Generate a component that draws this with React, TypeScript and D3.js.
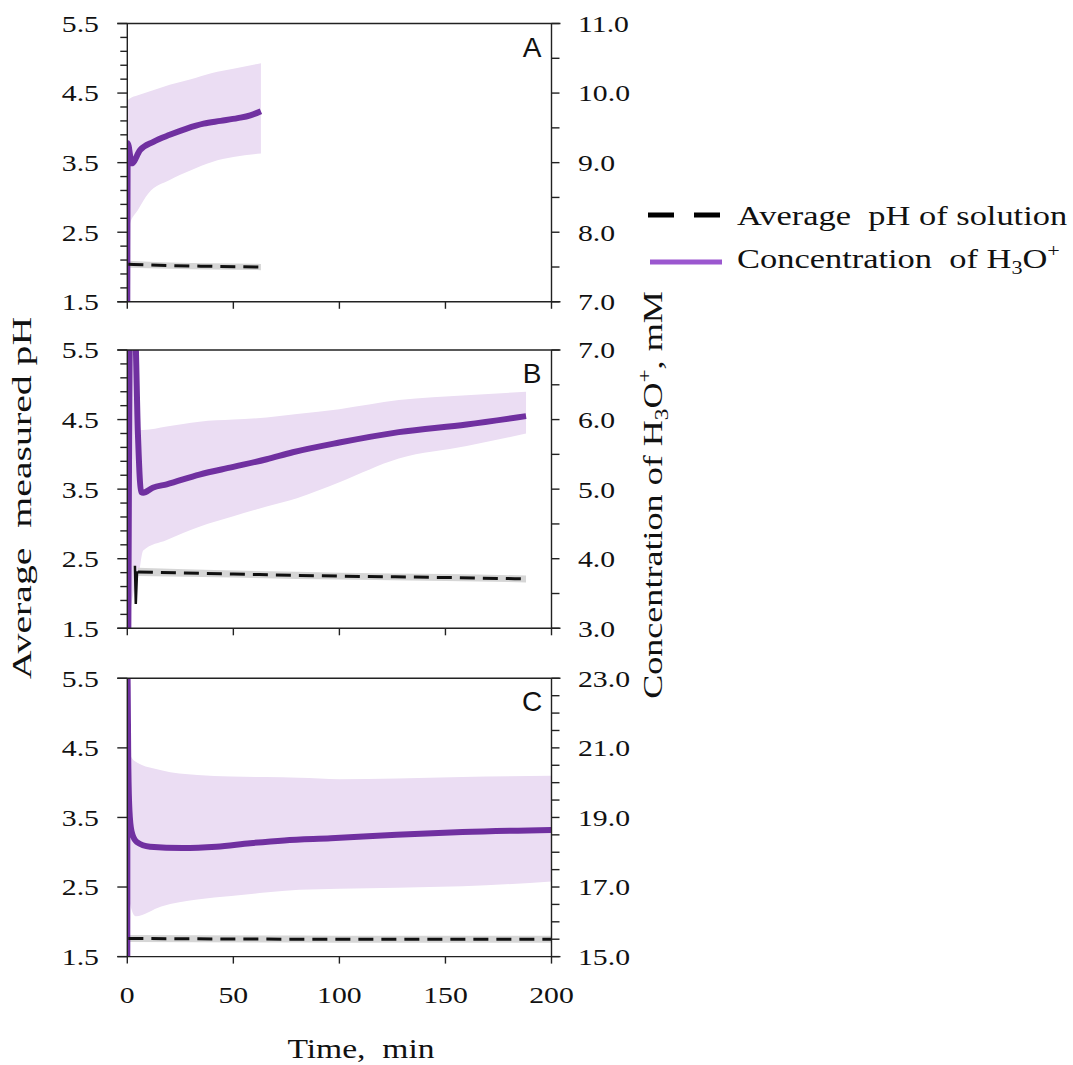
import React from 'react';
import * as d3 from 'd3';

// ---------- data ----------
const timeTicks = [0, 50, 100, 150, 200];

// Panel A
const aConcTime = [0, 0.2, 2.1, 6, 12.3, 20, 28, 36, 44, 52, 58, 63];
const aConc = [7.0, 9.28, 8.99, 9.18, 9.3, 9.4, 9.49, 9.56, 9.6, 9.64, 9.68, 9.74];
const aBandTime = [0.2, 1, 5, 10, 20, 30, 40, 50, 63];
const aBandHigh = [9.9, 9.92, 9.97, 10.02, 10.12, 10.2, 10.29, 10.35, 10.43];
const aBandLow = [7.9, 8.1, 8.32, 8.56, 8.75, 8.89, 9.01, 9.08, 9.13];
const aPhTime = [0.5, 20, 40, 63];
const aPh = [2.04, 2.02, 2.01, 2.0];
const aPhSd = [0.05, 0.045, 0.045, 0.045];

// Panel B
const bConcTime = [0.5, 1.3, 3.6, 5, 6.5, 7.5, 12, 18.6, 34, 50, 65.7, 78, 100, 128, 160, 188];
const bConc = [3.0, 7.3, 7.3, 5.8, 4.96, 4.95, 5.02, 5.07, 5.21, 5.32, 5.43, 5.53, 5.67, 5.82, 5.93, 6.05];
const bBandTime = [0.5, 1.3, 3.6, 5, 7.5, 18.6, 34, 50, 65.7, 80, 100, 128, 160, 188];
const bBandHigh = [3.2, 7.3, 7.3, 5.85, 5.85, 5.9, 5.97, 6.0, 6.03, 6.08, 6.15, 6.28, 6.35, 6.4];
const bBandLow = [3.0, 3.2, 3.6, 3.7, 4.12, 4.27, 4.46, 4.61, 4.75, 4.87, 5.1, 5.44, 5.62, 5.8];
const bPhTime = [5, 50, 100, 150, 188];
const bPh = [2.31, 2.28, 2.25, 2.23, 2.21];
const bPhSd = [0.06, 0.05, 0.05, 0.05, 0.05];
const bPhEarlyTime = [3.6, 4.0, 4.6];
const bPhEarly = [2.4, 1.85, 2.32];

// Panel C
const cConcTime = [0, 0.05, 0.5, 1, 2, 4.4, 10.7, 26, 42, 58, 74, 96, 127, 158, 200];
const cConc = [15.0, 23.2, 20.4, 19.2, 18.6, 18.3, 18.16, 18.12, 18.16, 18.26, 18.34, 18.4, 18.5, 18.58, 18.64];
const cBandTime = [0.3, 1, 4, 16, 33, 49, 65, 81, 100, 127, 158, 200];
const cBandHigh = [21.0, 20.86, 20.6, 20.36, 20.22, 20.18, 20.16, 20.14, 20.1, 20.12, 20.16, 20.2];
const cBandLow = [17.5, 16.6, 16.16, 16.44, 16.64, 16.74, 16.84, 16.92, 16.95, 16.98, 17.02, 17.16];
const cPhTime = [0.5, 100, 200];
const cPh = [1.76, 1.75, 1.75];
const cPhSd = [0.05, 0.05, 0.05];

// axes
const phDomain = [1.5, 5.5];
const phMajorTicks = [1.5, 2.5, 3.5, 4.5, 5.5];
const aRight = { domain: [7, 11], step: 0.5, labelStep: 1 };
const bRight = { domain: [3, 7], step: 0.5, labelStep: 1 };
const cRight = { domain: [15, 23], step: 0.5, labelStep: 2 };

const panelLetters = ['A', 'B', 'C'];
const legendLabels = ['Average  pH of solution', 'Concentration  of H'];

// ---------- styles ----------
const PURPLE = '#7030A0';
const BAND = '#EBDDF3';
const GRAY = '#D6D6D6';
const LEGEND_PURPLE = '#9B57CF';
const SERIF = '"Liberation Serif", "Times New Roman", serif';
const SANS = '"Liberation Sans", Arial, sans-serif';
const TICK_FS = 24;
const TICK_SX = 1.24;

const X0 = 127.3;
const X1 = 551.5;
const panelTops = [23.5, 350, 678.3];
const PH = 278.3;

const x = d3.scaleLinear().domain([0, 200]).range([X0, X1]);

type Panel = {
  letter: string;
  right: { domain: number[]; step: number; labelStep: number };
  minorLeft: boolean;
  concT: number[]; conc: number[];
  bandT: number[]; bandHi: number[]; bandLo: number[];
  phT: number[]; ph: number[]; phSd: number[];
  phEarlyT?: number[]; phEarly?: number[];
};

const panels: Panel[] = [
  { letter: panelLetters[0], right: aRight, minorLeft: true, concT: aConcTime, conc: aConc, bandT: aBandTime, bandHi: aBandHigh, bandLo: aBandLow, phT: aPhTime, ph: aPh, phSd: aPhSd },
  { letter: panelLetters[1], right: bRight, minorLeft: true, concT: bConcTime, conc: bConc, bandT: bBandTime, bandHi: bBandHigh, bandLo: bBandLow, phT: bPhTime, ph: bPh, phSd: bPhSd, phEarlyT: bPhEarlyTime, phEarly: bPhEarly },
  { letter: panelLetters[2], right: cRight, minorLeft: false, concT: cConcTime, conc: cConc, bandT: cBandTime, bandHi: cBandHigh, bandLo: cBandLow, phT: cPhTime, ph: cPh, phSd: cPhSd },
];

function range(a: number, b: number, s: number) {
  const out: number[] = [];
  const n = Math.round((b - a) / s);
  for (let i = 0; i <= n; i++) out.push(+(a + i * s).toFixed(4));
  return out;
}

function SText({ x, y, sx, anchor, fs, children, rot, dy }: any) {
  const tr = `translate(${x},${y})${rot ? ` rotate(${rot})` : ''} scale(${sx},1)`;
  return (
    <text transform={tr} dy={dy} textAnchor={anchor || 'start'} fontFamily={SERIF} fontSize={fs} fill="#111" style={{ whiteSpace: 'pre' }}>
      {children}
    </text>
  );
}

function PanelView({ p, idx }: { p: Panel; idx: number }) {
  const top = panelTops[idx];
  const bottom = top + PH;
  const yL = d3.scaleLinear().domain(phDomain).range([bottom, top]);
  const yR = d3.scaleLinear().domain(p.right.domain).range([bottom, top]);
  const clipId = `clip${idx}`;

  const band = d3.area<number>()
    .x((_, i) => x(p.bandT[i]))
    .y0((_, i) => yR(p.bandLo[i]))
    .y1((_, i) => yR(p.bandHi[i]))
    .curve(d3.curveMonotoneX);
  const concLine = d3.line<number>()
    .x((_, i) => x(p.concT[i]))
    .y((v) => yR(v))
    .curve(d3.curveMonotoneX);
  const phBand = d3.area<number>()
    .x((_, i) => x(p.phT[i]))
    .y0((v, i) => yL(v - p.phSd[i]))
    .y1((v, i) => yL(v + p.phSd[i]))
    .curve(d3.curveMonotoneX);
  const phLine = d3.line<number>()
    .x((_, i) => x(p.phT[i]))
    .y((v) => yL(v))
    .curve(d3.curveMonotoneX);
  const earlyLine = d3.line<number>()
    .x((_, i) => x((p.phEarlyT as number[])[i]))
    .y((v) => yL(v));

  const leftTicks = p.minorLeft ? range(1.5, 5.5, 0.2) : phMajorTicks;
  const rightTicks = range(p.right.domain[0], p.right.domain[1], p.right.step);
  const isMajor = (v: number) => phMajorTicks.some((m) => Math.abs(m - v) < 1e-6);
  const isRightLabel = (v: number) => {
    const k = (v - p.right.domain[0]) / p.right.labelStep;
    return Math.abs(k - Math.round(k)) < 1e-6;
  };

  return (
    <g>
      <defs>
        <clipPath id={clipId}>
          <rect x={X0} y={top} width={X1 - X0} height={PH} />
        </clipPath>
      </defs>
      <g clipPath={`url(#${clipId})`}>
        <path d={band(p.bandT) || ''} fill={BAND} />
        <path d={phBand(p.ph) || ''} fill={GRAY} />
        <path d={concLine(p.conc) || ''} fill="none" stroke={PURPLE} strokeWidth={6} strokeLinejoin="round" />
        {p.phEarly && (
          <path d={earlyLine(p.phEarly) || ''} fill="none" stroke="#111" strokeWidth={2.5} />
        )}
        <path d={phLine(p.ph) || ''} fill="none" stroke="#111" strokeWidth={3} strokeDasharray="15,8" />
      </g>
      {/* frame */}
      <line x1={X0 - 10} x2={X1 + 9} y1={top} y2={top} stroke="#222" strokeWidth={1.4} />
      <line x1={X0 - 10} x2={X1 + 9} y1={bottom} y2={bottom} stroke="#222" strokeWidth={1.4} />
      <line x1={X0} x2={X0} y1={top} y2={bottom} stroke="#222" strokeWidth={1.4} />
      <line x1={X1} x2={X1} y1={top} y2={bottom} stroke="#222" strokeWidth={1.4} />
      {/* left ticks */}
      {leftTicks.map((v) => (
        <line key={`l${v}`} x1={X0 - (isMajor(v) ? 10 : 7)} x2={X0} y1={yL(v)} y2={yL(v)} stroke="#222" strokeWidth={1.4} />
      ))}
      {phMajorTicks.map((v) => (
        <SText key={`ll${v}`} x={99} y={yL(v)} dy="0.35em" anchor="end" fs={TICK_FS} sx={TICK_SX}>
          {v.toFixed(1)}
        </SText>
      ))}
      {/* right ticks */}
      {rightTicks.map((v) => (
        <line key={`r${v}`} x1={X1} x2={X1 + 8} y1={yR(v)} y2={yR(v)} stroke="#222" strokeWidth={1.4} />
      ))}
      {rightTicks.filter(isRightLabel).map((v) => (
        <SText key={`rl${v}`} x={578} y={yR(v)} dy="0.35em" anchor="start" fs={TICK_FS} sx={TICK_SX}>
          {v.toFixed(1)}
        </SText>
      ))}
      {/* x ticks */}
      {timeTicks.map((t) => (
        <line key={`x${t}`} x1={x(t)} x2={x(t)} y1={bottom} y2={bottom + 7} stroke="#222" strokeWidth={1.4} />
      ))}
      {idx === 2 && timeTicks.map((t) => (
        <SText key={`xl${t}`} x={x(t)} y={1003} anchor="middle" fs={TICK_FS} sx={TICK_SX}>
          {String(t)}
        </SText>
      ))}
      <text x={532} y={top + 33} textAnchor="middle" fontFamily={SANS} fontSize={28} fill="#111">
        {p.letter}
      </text>
    </g>
  );
}

export default function App() {
  return (
    <svg width={1073} height={1065} style={{ position: 'absolute', left: 0, top: 0, background: '#fff' }}>
      <rect x={0} y={0} width={1073} height={1065} fill="#fff" />
      {panels.map((p, i) => (
        <PanelView key={p.letter} p={p} idx={i} />
      ))}
      {/* axis titles */}
      <SText x={31} y={498} rot={-90} anchor="middle" fs={28} sx={1.42}>
        Average  measured pH
      </SText>
      <SText x={662} y={495} rot={-90} anchor="middle" fs={28} sx={1.29}>
        Concentration of H<tspan fontSize={18} dy={6}>3</tspan><tspan dy={-6}>O</tspan><tspan fontSize={18} dy={-11}>+</tspan><tspan dy={11}>, mM</tspan>
      </SText>
      <SText x={361} y={1058} anchor="middle" fs={28} sx={1.2}>
        Time,  min
      </SText>
      {/* legend */}
      <line x1={648} x2={722} y1={215} y2={215} stroke="#000" strokeWidth={5} strokeDasharray="26,20" />
      <SText x={737} y={225} fs={28} sx={1.23}>
        {legendLabels[0]}
      </SText>
      <line x1={650} x2={722} y1={262} y2={262} stroke={LEGEND_PURPLE} strokeWidth={5} />
      <SText x={737} y={268} fs={28} sx={1.23}>
        {legendLabels[1]}<tspan fontSize={18} dy={6}>3</tspan><tspan dy={-6}>O</tspan><tspan fontSize={18} dy={-11}>+</tspan>
      </SText>
    </svg>
  );
}
